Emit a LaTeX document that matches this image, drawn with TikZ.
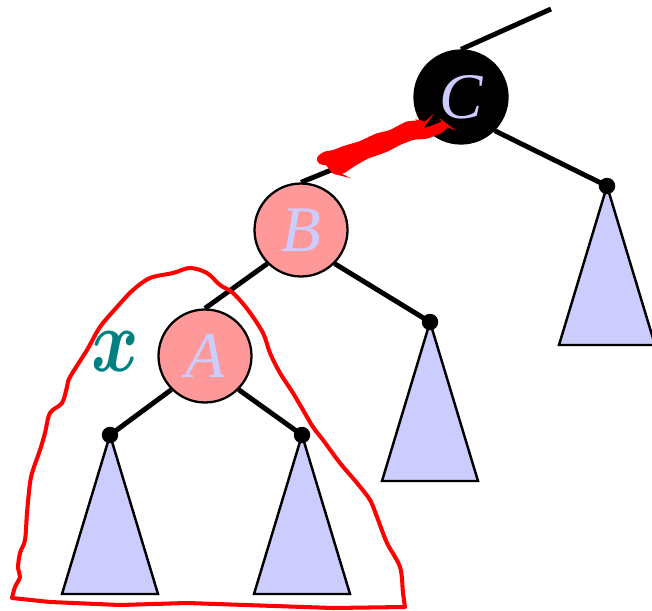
\documentclass[tikz,border=0pt]{standalone}
\usepackage{fontspec}
\setmainfont{Liberation Serif}
\usetikzlibrary{positioning}
\definecolor{nodepink}{RGB}{255,153,153}
\definecolor{lavender}{RGB}{204,204,255}
\definecolor{tealx}{RGB}{0,128,128}

\begin{document}
\begin{tikzpicture}[
    x=0.02cm, y=-0.02cm,
    treenode/.style={circle, draw, line width=1.3pt, fill=nodepink, minimum size=1.86cm, inner sep=0pt, font=\fontsize{37}{37}\selectfont\itshape, text=lavender},
    blacknode/.style={treenode, fill=black},
    leafdot/.style={circle, fill=black, minimum size=0.33cm, inner sep=0pt},
    subtree/.style={draw, line width=1.4pt, fill=lavender, line join=miter},
    link/.style={line width=2.8pt},
    loopline/.style={draw=red, line width=2.3pt, line join=round}
]
\useasboundingbox (0,0) rectangle (652,611);

% Subtrees
\foreach \name/\px/\py in {ll/110/435, lr/302/435, br/430/322, cr/607/186} {
  \coordinate (\name) at (\px,\py);
  \draw[subtree] (\name) -- ++(-48,159) -- ++(96,0) -- cycle;
}
\foreach \name in {ll,lr,br,cr}
  \node[leafdot] (\name dot) at (\name) {};

% Tree nodes
\node[blacknode] (C) at (461,97) {C};
\node[treenode] (B) at (301,230) {B};
\node[treenode] (A) at (205,356) {A};
\coordinate (up) at (551,9);
\node[text=tealx, font=\fontsize{24.88}{25}\selectfont\boldmath] (xlabel) at (115,352) {\scalebox{1.65}[2.05]{$x$}};

% Links
\draw[link] (C.north) -- (up);
\draw[link] (B.north) -- (C.south west);
\draw[link] (C.south east) -- (crdot.center);
\draw[link] (A.north) -- (B.south west);
\draw[link] (B.south east) -- (brdot.center);
\draw[link] (A.south west) -- (lldot.center);
\draw[link] (A.south east) -- (lrdot.center);

% Red scribble over B--C
\filldraw[red, line width=2pt, rounded corners=1.5pt] (318,158) -- (325,153) -- (333,152) -- (343,148)
  -- (360,143) -- (377,135) -- (390,132) -- (407,123) -- (420,122) -- (425,123) -- (422,127)
  -- (415,128) -- (417,132) -- (430,128) -- (443,123) -- (447,126) -- (440,132) -- (427,137)
  -- (413,138) -- (400,143) -- (387,150) -- (367,157) -- (353,165) -- (343,172) -- (337,173)
  -- (333,172) -- (327,163) -- (320,163) -- cycle;

% Red loop round the subtree of x
\draw[loopline] plot[smooth, tension=0.55] coordinates {(12,598) (15,587) (20,577) (18,568) (20,553)
  (25,540) (27,513) (30,483) (33,470) (40,450) (45,433) (50,413) (62,403) (67,387) (70,377)
  (87,350) (100,327) (117,307) (133,290) (150,278) (173,273) (190,268) (207,273) (220,285)
  (233,293) (248,310) (263,333) (270,353) (280,373) (293,393) (303,410) (313,427) (323,440)
  (340,463) (357,483) (370,500) (377,517) (387,543) (400,567) (403,593) (405,607)}
  -- (333,608) -- (187,603) -- (120,605) -- (50,602) -- cycle;
\end{tikzpicture}
\end{document}
